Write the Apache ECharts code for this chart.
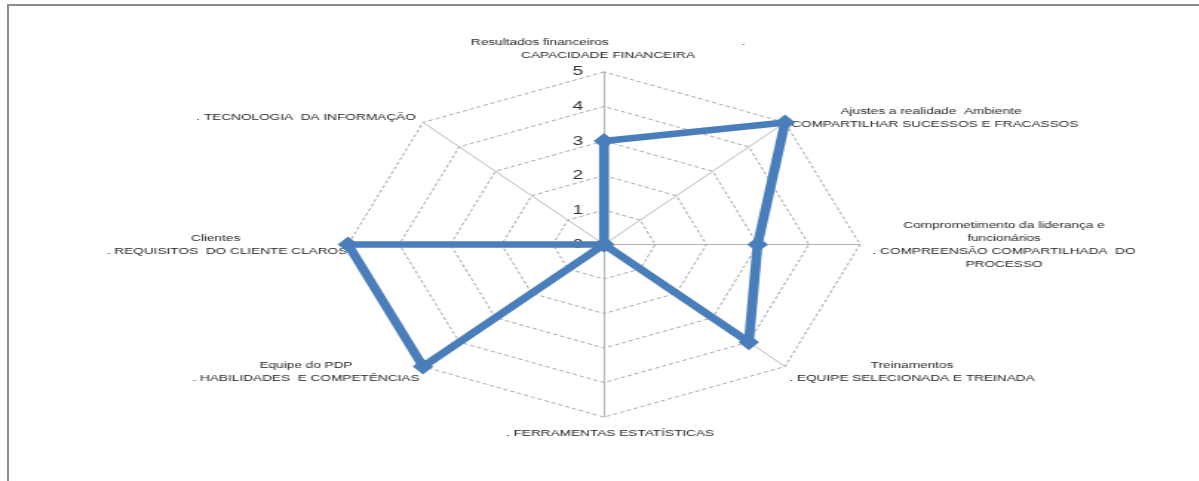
<!DOCTYPE html>
<html>
<head>
<meta charset="utf-8">
<script src="https://cdn.jsdelivr.net/npm/echarts@6/dist/echarts.min.js"></script>
<style>
  html, body { margin: 0; padding: 0; background: #fff; }
  #page { position: relative; width: 1199px; height: 481px; overflow: hidden; background: #fff; }
  #frame { position: absolute; left: 7px; top: 4px; right: -10px; bottom: -10px;
           border-top: 2px solid #8c8c8c; border-left: 2px solid #8c8c8c; }
  #chart { position: absolute; left: 0; top: 0; height: 481px; transform-origin: 0 0; }
</style>
</head>
<body>
<div id="page">
  <div id="frame"></div>
  <div id="chart"></div>
</div>
<script>
// Axis names, clockwise from the top
const categories = [
  'Resultados financeiros' + ' '.repeat(35) + '.\nCAPACIDADE FINANCEIRA',
  'Ajustes a realidade  Ambiente\n. COMPARTILHAR SUCESSOS E FRACASSOS',
  'Comprometimento da liderança e\nfuncionários\n. COMPREENSÃO COMPARTILHADA  DO\nPROCESSO',
  'Treinamentos\n. EQUIPE SELECIONADA E TREINADA',
  '. FERRAMENTAS ESTATÍSTICAS',
  'Equipe do PDP\n. HABILIDADES  E COMPETÊNCIAS',
  'Clientes' + ' '.repeat(6) + '\n. REQUISITOS  DO CLIENTE CLAROS',
  '. TECNOLOGIA  DA INFORMAÇÃO'
];

// Score of each dimension (same order)
const scores = [3, 5, 3, 4, 0, 5, 5, 0];

// Scale of every axis: 0 .. 5, one ring per unit
const scaleMin = 0;
const scaleMax = 5;
const scaleSteps = 5;

// ---- layout ----
// The drawing is widened horizontally as a whole (text included).
const RV = 172.6;           // radius in the vertical direction
const SX = 256 / RV;        // horizontal stretch
const CX = 604, CY = 244.5; // centre on the page
const innerWidth = 1199 / SX;

// Offset of each name block from its axis end, page pixels (to the centre of the first line)
const nameOffsets = [[4, -29], [146, -11.4], [144, -19.5], [127, -0.6],
                     [6, 16], [-117, -0.6], [-121, -6.5], [-117, -5.4]];
const LINE_H = 13;

const chartEl = document.getElementById('chart');
chartEl.style.width = innerWidth + 'px';
chartEl.style.transform = 'scaleX(' + SX + ')';

const chart = echarts.init(chartEl, null, { renderer: 'canvas', width: innerWidth, height: 481 });

const n = categories.length;
const nameGraphics = categories.map(function (label, i) {
  const a = Math.PI / 2 - i * 2 * Math.PI / n;
  const vx = CX + RV * SX * Math.cos(a);
  const vy = CY - RV * Math.sin(a);
  const off = nameOffsets[i];
  return {
    type: 'text',
    z: 1,
    x: (vx + off[0]) / SX,
    y: vy + off[1] - LINE_H / 2,
    style: {
      text: label,
      x: 0, y: 0,
      align: 'center', textAlign: 'center',
      verticalAlign: 'top', textVerticalAlign: 'top',
      fontFamily: 'Liberation Sans',
      fontSize: 9.2,
      lineHeight: LINE_H,
      fill: '#1f1f1f'
    }
  };
});

// The radar lays its axes out counter-clockwise; feed them in reverse
// (after the first) so the dimensions run clockwise.
const order = [0].concat(categories.map(function (_, i) { return i; }).slice(1).reverse());

const indicators = order.map(function (k, j) {
  const ind = { name: categories[k], min: scaleMin, max: scaleMax };
  if (j === 0) {
    // tick values on the vertical axis, set off to its left:
    // a right-aligned number cell followed by an empty spacer cell
    ind.axisLabel = {
      show: true,
      margin: 0,
      formatter: function (v) { return '{v|' + v + '}{s|}'; },
      rich: {
        v: { width: 10, align: 'right', color: '#333333', fontFamily: 'Liberation Sans', fontSize: 13 },
        s: { width: 14 }
      }
    };
  }
  return ind;
});
const orderedScores = order.map(function (k) { return scores[k]; });

chart.setOption({
  animation: false,
  backgroundColor: 'transparent',
  graphic: { elements: nameGraphics },
  radar: {
    center: [CX / SX, CY],
    radius: RV,
    startAngle: 90,
    shape: 'polygon',
    splitNumber: scaleSteps,
    indicator: indicators,
    axisName: { show: false },
    axisLabel: { show: false },
    axisTick: { show: false },
    axisLine: { show: true, lineStyle: { color: '#b3b3b3', width: 1 } },
    splitLine: { show: true, lineStyle: { color: '#a6a6a6', width: 1, type: [3, 2] } },
    splitArea: { show: false }
  },
  series: [{
    type: 'radar',
    z: 2,
    symbol: 'diamond',
    symbolSize: [14, 16],
    lineStyle: { color: '#4a7ebb', width: 6.7 },
    itemStyle: { color: '#4a7ebb' },
    data: [{ value: orderedScores, name: 'Pontuação' }]
  }]
});
</script>
</body>
</html>
